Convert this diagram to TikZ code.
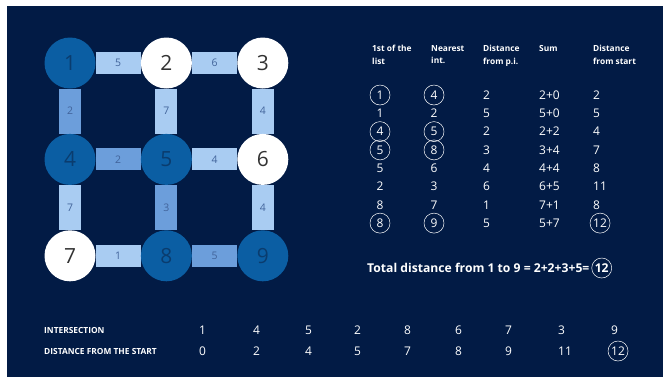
\documentclass[tikz,border=0pt]{standalone}
\usepackage{fontspec}
\setmainfont{Open Sans}
\usetikzlibrary{positioning,backgrounds}

\definecolor{navy}{HTML}{021B45}
\definecolor{nodeblue}{HTML}{0B5EA3}
\definecolor{nodetext}{HTML}{0A3C6E}
\definecolor{graytext}{HTML}{333333}
\definecolor{paleblue}{HTML}{A9CCF2}
\definecolor{midblue}{HTML}{6C9EDB}
\definecolor{wttext}{HTML}{41639A}

\begin{document}
\begin{tikzpicture}[
    x=1bp, y=-1bp,
    node distance=45bp,
    inter/.style={circle, minimum size=51bp, inner sep=0pt, font=\fontsize{21}{21}\selectfont},
    done/.style={inter, fill=nodeblue, text=nodetext},
    open/.style={inter, fill=white, text=graytext},
    edge/.style={line width=22bp, draw=paleblue},
    chosen/.style={edge, draw=midblue},
    wt/.style={midway, font=\fontsize{10.5}{10.5}\selectfont, text=wttext},
    head/.style={anchor=north west, align=left, inner sep=0pt, text=white, font=\bfseries\fontsize{8.4}{12.5}\selectfont},
    cell/.style={inner sep=0pt, text=white, font=\fontsize{12}{12}\selectfont},
    caps/.style={anchor=west, inner sep=0pt, text=white, font=\bfseries\fontsize{8.4}{8.4}\selectfont},
    ring/.style={draw=white, line width=0.5bp}
]
\useasboundingbox (0,0) rectangle (663,378);

% intersections
\node[done] (n1) at (70,63) {1};
\node[open, right=of n1] (n2) {2};
\node[open, right=of n2] (n3) {3};
\node[done, below=of n1] (n4) {4};
\node[done, right=of n4] (n5) {5};
\node[open, right=of n5] (n6) {6};
\node[open, below=of n4] (n7) {7};
\node[done, right=of n7] (n8) {8};
\node[done, right=of n8] (n9) {9};

\begin{pgfonlayer}{background}
\fill[white] (0,0) rectangle (663,378);
\fill[navy] (7,6) rectangle (663,377);
\draw[edge] (n1) -- (n2) node[wt] {5};
\draw[edge] (n2) -- (n3) node[wt] {6};
\draw[chosen] (n1) -- (n4) node[wt] {2};
\draw[edge] (n2) -- (n5) node[wt] {7};
\draw[edge] (n3) -- (n6) node[wt] {4};
\draw[chosen] (n4) -- (n5) node[wt] {2};
\draw[edge] (n5) -- (n6) node[wt] {4};
\draw[edge] (n4) -- (n7) node[wt] {7};
\draw[chosen] (n5) -- (n8) node[wt] {3};
\draw[edge] (n6) -- (n9) node[wt] {4};
\draw[edge] (n7) -- (n8) node[wt] {1};
\draw[chosen] (n8) -- (n9) node[wt] {5};
\end{pgfonlayer}

% table
\node[head] (h1) at (372,45) {1st of the\\list};
\node[head] (h2) at (431,45) {Nearest\\int.};
\node[head] (h3) at (483,45) {Distance\\from p.i.};
\node[head] (h4) at (539,45) {Sum};
\node[head] (h5) at (593,45) {Distance\\from start};

\foreach \a/\b/\c/\d/\e [count=\k] in {1/4/2/2+0/2, 1/2/5/5+0/5, 4/5/2/2+2/4, 5/8/3/3+4/7,
    5/6/4/4+4/8, 2/3/6/6+5/11, 8/7/1/7+1/8, 8/9/5/5+7/12} {
  \node[cell] (r\k a) at (380,76.7+18.3*\k) {\a};
  \node[cell] (r\k b) at (434,76.7+18.3*\k) {\b};
  \node[cell, anchor=west] (r\k c) at (483,76.7+18.3*\k) {\c};
  \node[cell, anchor=west] (r\k d) at (539,76.7+18.3*\k) {\d};
  \node[cell, anchor=west] (r\k e) at (593,76.7+18.3*\k) {\e};
}
\foreach \c in {r1a, r1b, r3a, r3b, r4a, r4b, r8a, r8b, r8e}
  \draw[ring] (\c) circle[radius=10bp];

\node[cell, anchor=west, font=\bfseries\fontsize{12.2}{12.2}\selectfont] (total) at (367,268) {Total distance from 1 to 9 = 2+2+3+5=};
\node[cell, right=5bp of total, font=\bfseries\fontsize{12.2}{12.2}\selectfont] (total12) {12};
\draw[ring] (total12) circle[radius=10bp];

% order of visit
\node[caps] (inter) at (44,330) {INTERSECTION};
\node[caps] (dist) at (44,351) {DISTANCE FROM THE START};
\foreach \x/\a/\b [count=\k] in {199/1/0, 253/4/2, 305/5/4, 354/2/5, 404/8/7,
    455/6/8, 505/7/9, 558/3/11, 611/9/12} {
  \node[cell, anchor=west] (i\k) at (\x,330) {\a};
  \node[cell, anchor=west] (d\k) at (\x,351) {\b};
}
\draw[ring] (d9) circle[radius=10bp];
\end{tikzpicture}
\end{document}
